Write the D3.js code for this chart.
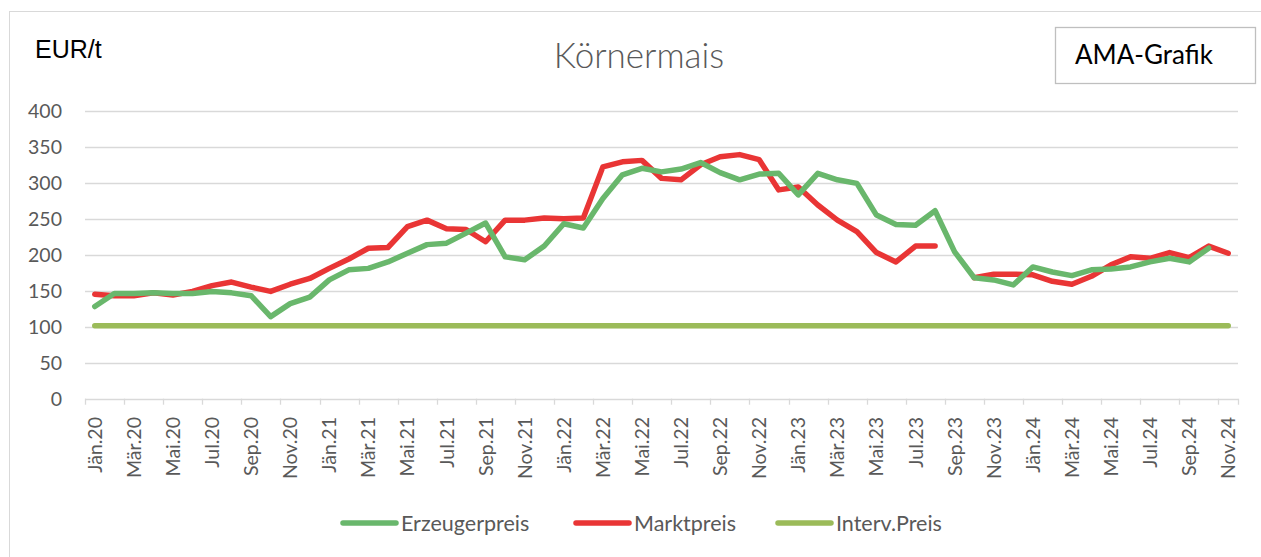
<!DOCTYPE html>
<html>
<head>
<meta charset="utf-8">
<script src="https://cdn.jsdelivr.net/npm/d3@7"></script>
<style>
    body { margin: 0; background: #fff; }
    text { font-family: Lato, "Open Sans", sans-serif; }
</style>
</head>
<body>
<div id="chart"></div>
<script>
let monthNames = ["Jän", "Feb", "Mär", "Apr", "Mai", "Jun", "Jul", "Aug", "Sep", "Okt", "Nov", "Dez"];
let years = ["20", "21", "22", "23", "24"];

let months = [];
years.forEach(yr => monthNames.forEach(m => months.push(m + "." + yr)));
months = months.slice(0, 59); // Jän.20 .. Nov.24

let erzeugerpreis = [128, 146, 146, 147, 146, 146, 149, 147, 143, 114, 132, 141, 165, 179, 181,
    190, 202, 214, 216, 230, 244, 197, 193, 212, 243, 237, 278, 311, 320, 315,
    319, 328, 314, 304, 312, 313, 283, 313, 304, 299, 255, 242, 241, 261, 204,
    168, 165, 158, 183, 176, 171, 179, 180, 183, 190, 195, 190, 209, null];

let marktpreis = [145, 143, 143, 147, 144, 149, 157, 162, 155, 149, 159, 167, 181, 194, 209,
    210, 239, 248, 236, 235, 218, 248, 248, 251, 250, 251, 322, 329, 331, 306,
    304, 325, 336, 339, 332, 290, 294, 269, 248, 232, 203, 190, 212, 212, null,
    168, 173, 173, 172, 163, 159, 170, 186, 197, 195, 203, 196, 212, 202];

let intervPreis = 101.31;

let yTicks = [0, 50, 100, 150, 200, 250, 300, 350, 400];

let series = [
    {name: "Erzeugerpreis", values: erzeugerpreis, color: "#69b76c"},
    {name: "Marktpreis", values: marktpreis, color: "#e93535"},
    {name: "Interv.Preis", values: months.map(() => intervPreis), color: "#9bbb59"}
];

let width = 1261;
let height = 557;
let plot = {left: 85, right: 1238, top: 110.7, bottom: 398.7};

let svg = d3.select("#chart")
    .append("svg")
    .attr("width", width)
    .attr("height", height);

// chart border
svg.append("rect")
    .attr("x", 9.5)
    .attr("y", 11.5)
    .attr("width", 1300)
    .attr("height", 600)
    .attr("fill", "#fff")
    .attr("stroke", "#d9d9d9");

let x = d3.scaleBand()
    .domain(months)
    .range([plot.left, plot.right])
    .padding(0);
let y = d3.scaleLinear()
    .domain([0, 400])
    .range([plot.bottom, plot.top]);

let cx = d => x(d) + x.bandwidth() / 2;

// gridlines
svg.append("g")
    .selectAll("line")
    .data(yTicks)
    .enter()
    .append("line")
    .attr("x1", plot.left)
    .attr("x2", plot.right)
    .attr("y1", d => Math.round(y(d)) + 0.5)
    .attr("y2", d => Math.round(y(d)) + 0.5)
    .attr("stroke", "#d9d9d9")
    .attr("stroke-width", 1.3);

// y labels
svg.append("g")
    .selectAll("text")
    .data(yTicks)
    .enter()
    .append("text")
    .attr("x", 62)
    .attr("y", d => y(d))
    .attr("dy", "0.36em")
    .attr("text-anchor", "end")
    .attr("fill", "#595959")
    .style("font-size", "19.5px")
    .text(d => d);

// x tick marks between categories, every 2 months
let tickPos = months.filter((d, i) => i % 2 === 0).map(d => x(d)).concat([plot.right]);
svg.append("g")
    .selectAll("line")
    .data(tickPos)
    .enter()
    .append("line")
    .attr("x1", d => Math.round(d) + 0.5)
    .attr("x2", d => Math.round(d) + 0.5)
    .attr("y1", plot.bottom)
    .attr("y2", plot.bottom + 6)
    .attr("stroke", "#d9d9d9")
    .attr("stroke-width", 1.3);

// x labels
svg.append("g")
    .selectAll("text")
    .data(months.filter((d, i) => i % 2 === 0))
    .enter()
    .append("text")
    .attr("transform", d => "translate(" + cx(d) + "," + 417 + ") rotate(-90)")
    .attr("dy", "0.36em")
    .attr("text-anchor", "end")
    .attr("fill", "#595959")
    .style("font-size", "19.5px")
    .text(d => d);

// lines
let line = d3.line()
    .defined(d => d.v !== null)
    .x(d => cx(d.m))
    .y(d => y(d.v));

svg.append("g")
    .selectAll("path")
    .data(series.slice().reverse())
    .enter()
    .append("path")
    .attr("d", s => line(months.map((m, i) => ({m: m, v: s.values[i]}))))
    .attr("fill", "none")
    .attr("stroke", s => s.color)
    .attr("stroke-width", 5.5)
    .attr("stroke-linejoin", "round")
    .attr("stroke-linecap", "round");

// titles
svg.append("text")
    .attr("x", 35)
    .attr("y", 58)
    .style("font-family", "'Liberation Sans', Arial, sans-serif")
    .style("font-size", "25px")
    .attr("fill", "#000")
    .text("EUR/t");

svg.append("text")
    .attr("x", 639)
    .attr("y", 68)
    .attr("text-anchor", "middle")
    .style("font-size", "35px")
    .style("font-weight", 300)
    .attr("fill", "#595959")
    .text("Körnermais");

svg.append("rect")
    .attr("x", 1055.5)
    .attr("y", 27.5)
    .attr("width", 200)
    .attr("height", 56)
    .attr("fill", "#fff")
    .attr("stroke", "#bfbfbf")
    .attr("stroke-width", 1.3);

svg.append("text")
    .attr("x", 1075)
    .attr("y", 64)
    .style("font-size", "26px")
    .attr("fill", "#000")
    .text("AMA-Grafik");

// legend
let legendX = [341, 574, 776];
let legend = svg.append("g")
    .selectAll("g")
    .data(series)
    .enter()
    .append("g")
    .attr("transform", (d, i) => "translate(" + legendX[i] + ",523)");

legend.append("line")
    .attr("x1", 2)
    .attr("x2", 55)
    .attr("stroke", d => d.color)
    .attr("stroke-width", 5.5)
    .attr("stroke-linecap", "round");

legend.append("text")
    .attr("x", 60)
    .attr("dy", "0.36em")
    .attr("fill", "#595959")
    .style("font-size", "21.5px")
    .text(d => d.name);
</script>
</body>
</html>
